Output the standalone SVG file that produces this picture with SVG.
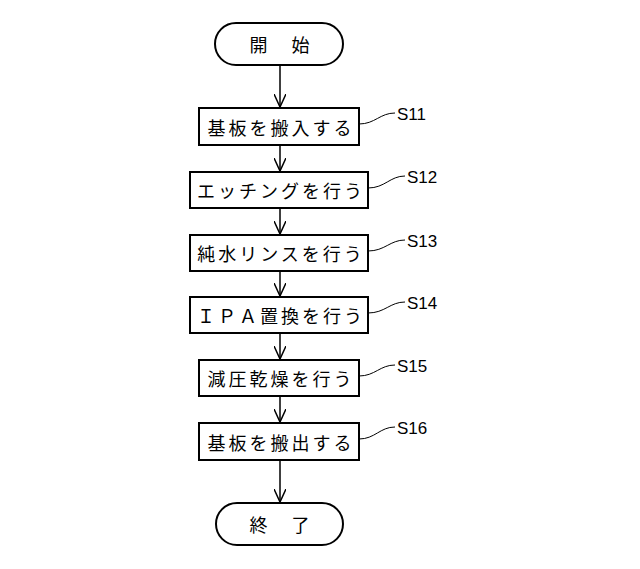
<svg xmlns="http://www.w3.org/2000/svg" width="640" height="569" viewBox="0 0 640 569">
<style>
.b{fill:#fff;stroke:#000;stroke-width:2}
.t{font-family:"Noto Sans CJK JP","Liberation Sans",sans-serif;font-size:18px;letter-spacing:3px;text-anchor:middle;dominant-baseline:central}
.l{font-family:"Liberation Sans",sans-serif;font-size:17px}
.c{fill:none;stroke:#000;stroke-width:1.5}
.w{fill:none;stroke:#000;stroke-width:1}
</style>
<defs><marker id="a" markerWidth="14" markerHeight="12" refX="13" refY="6" orient="auto" markerUnits="userSpaceOnUse"><path d="M0,0 L13,6 L0,12" fill="none" stroke="#000" stroke-width="1.5"/></marker></defs>
<rect width="640" height="569" fill="#fff"/>
<g id="connectors">
<line class="c" x1="280" y1="65" x2="280" y2="107" marker-end="url(#a)"/>
<line class="c" x1="280" y1="145" x2="280" y2="171" marker-end="url(#a)"/>
<line class="c" x1="280" y1="208" x2="280" y2="234" marker-end="url(#a)"/>
<line class="c" x1="280" y1="271" x2="280" y2="296" marker-end="url(#a)"/>
<line class="c" x1="280" y1="333" x2="280" y2="359" marker-end="url(#a)"/>
<line class="c" x1="280" y1="396" x2="280" y2="422" marker-end="url(#a)"/>
<line class="c" x1="280" y1="460" x2="280" y2="502" marker-end="url(#a)"/>
<path class="w" d="M359,124 C375,124 380,113 395,113"/>
<path class="w" d="M368,188 C385,188 390,176 405,176"/>
<path class="w" d="M368,251 C385,251 390,240 405,240"/>
<path class="w" d="M368,313 C385,313 390,302 405,302"/>
<path class="w" d="M359,376 C375,376 380,365 395,365"/>
<path class="w" d="M359,439 C375,439 380,427 395,427"/>
</g>
<g id="start"><rect class="b" x="215" y="23" width="128" height="42" rx="21"/><text class="t" x="281" y="44">開　始</text></g>
<g id="s11"><rect class="b" x="199" y="108" width="160" height="37"/><text class="t" x="281" y="127">基板を搬入する</text><text class="l" x="397" y="120">S11</text></g>
<g id="s12"><rect class="b" x="190" y="172" width="178" height="36"/><text class="t" x="281" y="190">エッチングを行う</text><text class="l" x="407" y="183">S12</text></g>
<g id="s13"><rect class="b" x="190" y="235" width="178" height="36"/><text class="t" x="281" y="253">純水リンスを行う</text><text class="l" x="407" y="247">S13</text></g>
<g id="s14"><rect class="b" x="190" y="297" width="178" height="36"/><text class="t" x="281" y="315">ＩＰＡ置換を行う</text><text class="l" x="407" y="309">S14</text></g>
<g id="s15"><rect class="b" x="199" y="360" width="160" height="36"/><text class="t" x="281" y="378">減圧乾燥を行う</text><text class="l" x="397" y="372">S15</text></g>
<g id="s16"><rect class="b" x="199" y="423" width="160" height="37"/><text class="t" x="281" y="442">基板を搬出する</text><text class="l" x="397" y="434">S16</text></g>
<g id="end"><rect class="b" x="216" y="503" width="127" height="42" rx="21"/><text class="t" x="281" y="524">終　了</text></g>
</svg>
